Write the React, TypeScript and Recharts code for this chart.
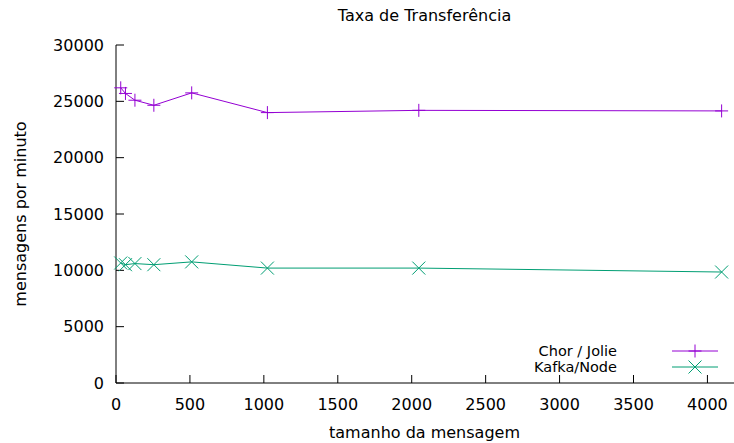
import { LineChart, Line, XAxis, YAxis, Legend } from "recharts";

const sizes = [32, 64, 128, 256, 512, 1024, 2048, 4096];
const chorJolie = [26200, 25700, 25100, 24650, 25750, 24000, 24200, 24150];
const kafkaNode = [10650, 10500, 10600, 10500, 10750, 10200, 10200, 9850];
const xTicks = [0, 500, 1000, 1500, 2000, 2500, 3000, 3500, 4000];
const yTicks = [0, 5000, 10000, 15000, 20000, 25000, 30000];

const series = [
  { key: "chor", name: "Chor / Jolie", color: "#9400d3", marker: "plus" },
  { key: "kafka", name: "Kafka/Node", color: "#009e73", marker: "cross" },
];

const data = sizes.map((x, i) => ({ x, chor: chorJolie[i], kafka: kafkaNode[i] }));

const font = "'DejaVu Sans', sans-serif";
const r = 6.5;

const Marker = ({ cx, cy, color, kind }: any) => {
  if (cx == null || cy == null) return null;
  if (kind === "plus") {
    return (
      <g stroke={color} strokeWidth={1}>
        <line x1={cx - r} x2={cx + r} y1={cy} y2={cy} />
        <line x1={cx} x2={cx} y1={cy - r} y2={cy + r} />
      </g>
    );
  }
  return (
    <g stroke={color} strokeWidth={1}>
      <line x1={cx - r} x2={cx + r} y1={cy - r} y2={cy + r} />
      <line x1={cx - r} x2={cx + r} y1={cy + r} y2={cy - r} />
    </g>
  );
};

const renderLegend = () => (
  <div style={{ position: "absolute", left: 0, top: 0 }}>
    {series.map((s, i) => (
      <div key={s.key} style={{ position: "absolute", left: 0, top: 343 + i * 16, width: 734 }}>
        <span
          style={{
            position: "absolute",
            right: 734 - 617,
            top: 0,
            fontFamily: font,
            fontSize: 14.5,
            lineHeight: "16px",
            whiteSpace: "nowrap",
            color: "#000",
          }}
        >
          {s.name}
        </span>
        <svg style={{ position: "absolute", left: 670, top: 0 }} width={50} height={16}>
          <line x1={2} x2={48} y1={8} y2={8} stroke={s.color} strokeWidth={1} />
          <Marker cx={25} cy={8} color={s.color} kind={s.marker} />
        </svg>
      </div>
    ))}
  </div>
);

export default function App() {
  return (
    <div
      style={{
        position: "absolute",
        left: 0,
        top: 0,
        width: 734,
        height: 443,
        overflow: "hidden",
        background: "#fff",
        fontFamily: font,
      }}
    >
      <div
        style={{
          position: "absolute",
          left: 116,
          width: 617,
          top: 6,
          textAlign: "center",
          fontSize: 16,
          color: "#000",
        }}
      >
        Taxa de Transferência
      </div>
      <div
        style={{
          position: "absolute",
          left: 116,
          width: 617,
          top: 423,
          textAlign: "center",
          fontSize: 16,
          color: "#000",
        }}
      >
        tamanho da mensagem
      </div>
      <div
        style={{
          position: "absolute",
          left: 20,
          top: 214,
          transform: "translate(-50%, -50%) rotate(-90deg)",
          fontSize: 16,
          whiteSpace: "nowrap",
          color: "#000",
        }}
      >
        mensagens por minuto
      </div>
      <LineChart
        width={740}
        height={443}
        data={data}
        margin={{ top: 45, right: 3, bottom: 0, left: 0 }}
        style={{ position: "absolute", left: 0, top: 0 }}
      >
        <XAxis
          xAxisId="b"
          type="number"
          dataKey="x"
          domain={[0, 4200]}
          ticks={xTicks}
          height={60}
          stroke="#000"
          tickSize={-8}
          tickMargin={24}
          tick={{ fill: "#000", fontSize: 16, fontFamily: font }}
          interval={0}
        />
        <XAxis
          xAxisId="t"
          orientation="top"
          type="number"
          dataKey="x"
          domain={[0, 4200]}
          ticks={xTicks}
          height={0}
          stroke="#000"
          tickSize={-8}
          tickFormatter={() => ""}
          interval={0}
        />
        <YAxis
          yAxisId="l"
          domain={[0, 30000]}
          ticks={yTicks}
          width={116}
          stroke="#000"
          tickSize={-8}
          tickMargin={20}
          tick={{ fill: "#000", fontSize: 16, fontFamily: font }}
          interval={0}
        />
        <YAxis
          yAxisId="r"
          orientation="right"
          domain={[0, 30000]}
          ticks={yTicks}
          width={0}
          stroke="#000"
          tickSize={-8}
          tickFormatter={() => ""}
          interval={0}
        />
        <Legend content={renderLegend} wrapperStyle={{ position: "absolute", left: 0, top: 0, width: 0, height: 0 }} />
        {series.map((s) => (
          <Line
            key={s.key}
            xAxisId="b"
            yAxisId="l"
            type="linear"
            dataKey={s.key}
            name={s.name}
            stroke={s.color}
            strokeWidth={1}
            isAnimationActive={false}
            dot={(p: any) => <Marker key={`${s.key}-${p.index}`} cx={p.cx} cy={p.cy} color={s.color} kind={s.marker} />}
            activeDot={false}
          />
        ))}
      </LineChart>
    </div>
  );
}
